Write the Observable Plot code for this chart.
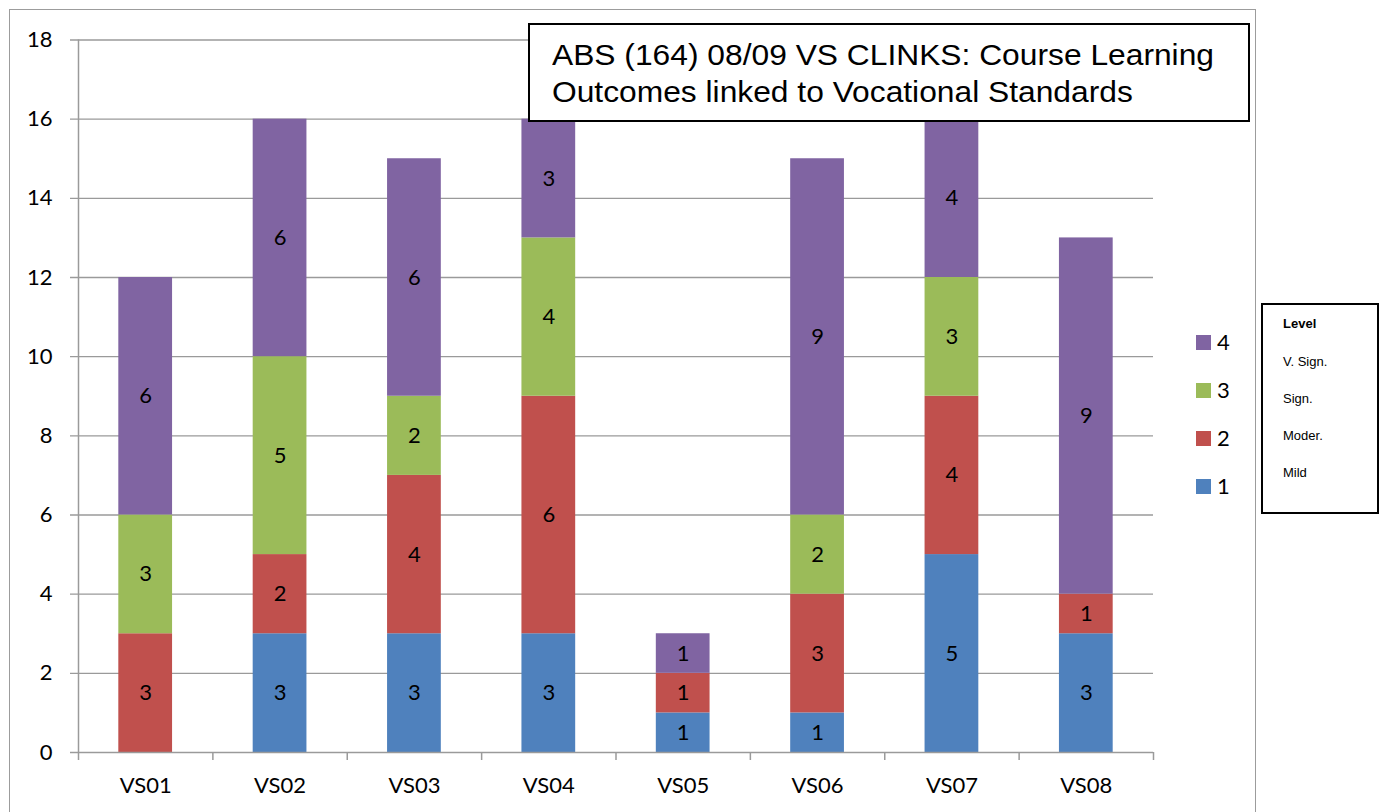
<!DOCTYPE html>
<html><head><meta charset="utf-8">
<script src="https://cdn.jsdelivr.net/npm/d3@7"></script>
<script src="https://cdn.jsdelivr.net/npm/@observablehq/plot@0.6"></script>
<style>
body{margin:0;background:#fff;}
#wrap{position:relative;width:1382px;height:812px;overflow:hidden;background:#fff;}
#frame{position:absolute;left:9px;top:9px;width:1247px;height:900px;border:1.5px solid #9c9c9c;box-sizing:border-box;}
#chart{position:absolute;left:0;top:0;}
#title{position:absolute;left:528px;top:23px;width:722px;height:99px;border:2px solid #000;box-sizing:border-box;background:#fff;
  font-family:"Liberation Sans",Arial,sans-serif;font-size:29px;line-height:37px;color:#000;padding:12px 0 0 22px;white-space:nowrap;}
#title .tl{transform-origin:0 50%;display:block;width:max-content;}
#legend{position:absolute;left:1196px;top:335px;font-family:Lato,sans-serif;font-size:22px;color:#000;}
.li{position:absolute;left:0;width:60px;height:15px;}
.sw{position:absolute;left:0;top:0;width:15px;height:15px;}
.lt{position:absolute;left:21px;top:-7px;line-height:28px;}
#levelbox{position:absolute;left:1261px;top:303px;width:118px;height:211px;border:2px solid #000;box-sizing:border-box;background:#fff;
  font-family:"Liberation Sans",Arial,sans-serif;font-size:13px;color:#000;}
.lv{position:absolute;left:20px;}
</style></head><body>
<div id="wrap"><div id="frame"></div><div id="chart"></div><div id="title"></div><div id="legend"></div><div id="levelbox"></div></div>
<script>
const categories = ["VS01","VS02","VS03","VS04","VS05","VS06","VS07","VS08"];
const seriesNames = ["1","2","3","4"];
const level1 = [0,3,3,3,1,1,5,3];
const level2 = [3,2,4,6,1,3,4,1];
const level3 = [3,5,2,4,0,2,3,0];
const level4 = [6,6,6,3,1,9,4,9];
const seriesColors = ["#4F81BD","#C0504D","#9BBB59","#8064A2"];
const yTicks = [0,2,4,6,8,10,12,14,16,18];
const levelHeader = "Level";
const levelNames = ["V. Sign.","Sign.","Moder.","Mild"];
const titleLines = ["ABS (164) 08/09 VS CLINKS: Course Learning","Outcomes linked to Vocational Standards"];

const seriesValues = [level1, level2, level3, level4];
const rows = [];
categories.forEach((c, i) => {
  let base = 0;
  seriesValues.forEach((vals, s) => {
    const v = vals[i];
    rows.push({cat: c, i, series: seriesNames[s], value: v, y1: base, y2: base + v});
    base += v;
  });
});
const boundaries = d3.range(categories.length + 1);
const centers = categories.map((c, i) => i + 0.5);
const grid = "#9a9a9a";

const chart = Plot.plot({
  width: 1382, height: 812,
  marginLeft: 78, marginRight: 229, marginTop: 39.5, marginBottom: 60,
  style: {fontFamily: "Lato, sans-serif", background: "transparent"},
  x: {type: "linear", domain: [0, categories.length]},
  y: {domain: [0, 18]},
  color: {domain: seriesNames, range: seriesColors},
  marks: [
    Plot.ruleY(yTicks.filter(d => d > 0), {y: d => d, stroke: grid, strokeWidth: 1.3, insetLeft: -8}),
    Plot.ruleX([0], {stroke: grid, strokeWidth: 1.5}),
    Plot.rectY(rows.filter(d => d.value > 0), {x1: d => d.i + 0.3, x2: d => d.i + 0.7, y1: "y1", y2: "y2", fill: "series", inset: 0}),
    Plot.ruleY([0], {stroke: grid, strokeWidth: 1.5, insetLeft: -8}),
    Plot.ruleX(boundaries, {x: d => d, y1: 0, y2: 0, insetBottom: -8, stroke: grid, strokeWidth: 1.5}),
    Plot.text(rows.filter(d => d.value > 0), {x: d => d.i + 0.5, y: d => (d.y1 + d.y2) / 2, text: d => String(d.value), fontSize: 22, fill: "#000", fontFamily: "Lato"}),
    Plot.axisY(yTicks, {tickSize: 0, tickPadding: 26, fontSize: 22, fill: "#000", fontFamily: "Lato"}),
    Plot.axisX(centers, {tickSize: 0, tickPadding: 25, fontSize: 22, fill: "#000", fontFamily: "Lato", tickFormat: d => categories[Math.round(d - 0.5)]})
  ]
});
document.getElementById("chart").appendChild(chart);

const titleEl = document.getElementById("title");
titleEl.innerHTML = titleLines.map(t => `<span class="tl">${t}</span>`).join("");
const spans = titleEl.querySelectorAll(".tl");
const w0 = spans[0].getBoundingClientRect().width;
const sx = 662 / w0;
spans.forEach(s => { s.style.transform = `scaleX(${sx})`; });

const leg = document.getElementById("legend");
const order = [3, 2, 1, 0];
order.forEach((s, k) => {
  const it = document.createElement("div");
  it.className = "li";
  it.style.top = (k * 48) + "px";
  it.innerHTML = `<div class="sw" style="background:${seriesColors[s]}"></div><div class="lt">${seriesNames[s]}</div>`;
  leg.appendChild(it);
});

const lb = document.getElementById("levelbox");
[levelHeader, ...levelNames].forEach((t, k) => {
  const d = document.createElement("div");
  d.className = "lv";
  d.style.top = (k === 0 ? 11 : 12 + k * 37) + "px";
  if (k === 0) d.style.fontWeight = "bold";
  d.textContent = t;
  lb.appendChild(d);
});
</script>
</body></html>
